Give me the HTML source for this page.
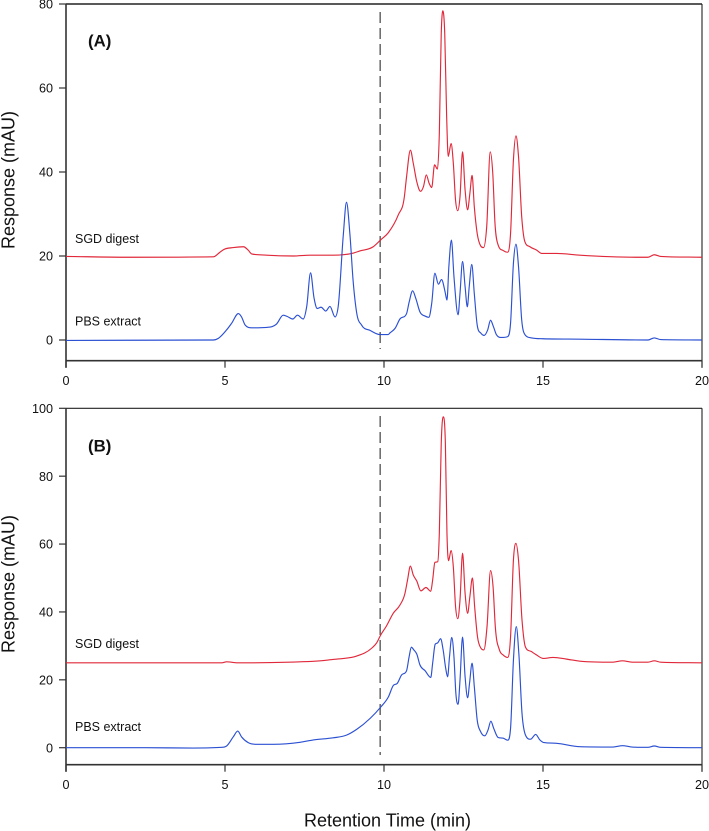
<!DOCTYPE html>
<html lang="en">
<head>
<meta charset="utf-8">
<title>Retention time chromatograms</title>
<style>
html,body{margin:0;padding:0;background:#fff;}
svg{display:block;}
text{font-family:"Liberation Sans",Arial,sans-serif;fill:#111;}
</style>
</head>
<body>
<svg id="chart" xmlns="http://www.w3.org/2000/svg" width="709" height="831" viewBox="0 0 709 831"></svg>
<script>
const xTickValues = [0, 5, 10, 15, 20];
const yTicksA = [0, 20, 40, 60, 80];
const yTicksB = [0, 20, 40, 60, 80, 100];
const dashedTime = 9.88;

const redATime = [0,2,4.63,4.84,4.95,5.26,5.58,5.73,5.84,6.31,7.15,7.67,8.4,9.04,9.24,9.66,9.89,10.14,10.45,10.64,10.71,10.83,10.92,11.03,11.15,11.24,11.33,11.42,11.5,11.59,11.68,11.74,11.8,11.85,11.91,11.97,12.02,12.11,12.18,12.25,12.32,12.39,12.47,12.55,12.63,12.7,12.77,12.84,12.93,13.04,13.13,13.23,13.34,13.42,13.49,13.59,13.75,13.89,13.98,14.07,14.15,14.23,14.33,14.43,14.59,14.8,14.96,15.43,16.16,18,18.3,18.5,18.7,20];
const redAValue = [19.9,19.7,19.8,20.9,21.5,22,22.2,21.4,20.5,20.2,20,20.2,20.2,20.7,21.2,22.2,23.8,25.6,29.8,34.1,38.9,45.2,42.1,37.7,35.4,36.5,39.3,37.3,36.3,41.7,40.7,49.2,73,78.4,73,53.2,43.7,46.8,42.1,33.3,30.8,34.1,44.8,35.7,31,34.9,39.2,31.7,25.4,22.4,22,27,44.8,39.7,27.8,22.6,21.3,20.9,25.4,42.9,48.6,43.7,29.4,23.4,22.2,21.4,20.6,20.6,20.2,19.7,19.7,20.3,19.9,19.7];

const blueATime = [0,4.63,4.79,5.05,5.21,5.42,5.52,5.63,5.84,6.31,6.62,6.83,6.96,7.13,7.28,7.46,7.57,7.69,7.8,7.9,8.02,8.17,8.3,8.46,8.56,8.72,8.82,8.93,9.03,9.14,9.3,9.56,9.87,10.13,10.19,10.35,10.5,10.71,10.79,10.9,11,11.13,11.29,11.41,11.5,11.6,11.71,11.81,11.92,11.98,12.04,12.12,12.2,12.33,12.39,12.47,12.55,12.62,12.68,12.76,12.84,12.93,13.05,13.15,13.26,13.35,13.44,13.54,13.7,13.89,13.98,14.07,14.15,14.23,14.33,14.43,14.64,15,16.16,18.3,18.5,18.7,20];
const blueAValue = [-0.1,0,0.4,2.4,4,6.3,5.5,3.6,2.9,3,3.8,5.9,5.6,5,5.9,5,8,16,10,7.5,7.8,6.9,8,5.5,8,25,32.8,25,14,6.5,3.5,2.3,1.3,1.3,1.7,2.8,5,6.3,9,11.7,9.9,6.7,5.7,5.4,8.7,15.9,13.3,14.4,11.5,9.5,17.5,23.8,15.1,6,11.1,18.7,12.7,7.9,12.7,18,11,3.6,1.6,1.1,2.4,4.7,3.2,1.2,0.6,0.8,4,18.3,22.8,17.5,4.8,1.3,0.5,0.3,0.2,0,0.5,0.1,0];

const redBTime = [0,4.9,5.05,5.4,7,7.36,8,8.4,8.62,9.14,9.61,9.77,9.89,10.08,10.29,10.5,10.66,10.74,10.83,10.92,11.03,11.16,11.32,11.47,11.53,11.6,11.69,11.74,11.8,11.86,11.93,11.98,12.03,12.11,12.18,12.25,12.32,12.39,12.47,12.55,12.63,12.7,12.78,12.85,12.94,13.05,13.14,13.24,13.35,13.43,13.5,13.63,13.75,13.89,13.98,14.07,14.15,14.23,14.34,14.45,14.64,14.8,15.01,15.32,15.74,16.16,17.2,17.5,17.8,18.3,18.5,18.7,20];
const redBValue = [25,25,25.3,25,25.2,25.3,25.6,26,26.2,27,29.3,30.9,33.1,35.9,39.6,42,45.5,49.4,53.5,50.9,49.1,46.2,47.2,46.1,49.4,54.6,54.8,63.2,89.7,97.5,89.7,63.2,55.1,58.1,53.3,41.6,38,43.5,57.3,45.5,39.6,44.5,50,41.6,32.7,29.3,28.8,35.7,52.2,47.4,35.7,28.8,27.3,26.6,32.7,55.3,60.2,55.3,37.6,29.6,28.3,27.3,26.3,26.6,26.1,25.5,25.2,25.6,25.2,25.2,25.6,25.2,25];

const blueBTime = [0,2.5,4,4.9,5.05,5.26,5.4,5.52,5.73,5.99,6.52,7.36,7.78,8.4,8.82,9.14,9.56,9.89,10.14,10.29,10.42,10.55,10.71,10.79,10.86,10.94,11.03,11.13,11.29,11.47,11.53,11.61,11.69,11.78,11.86,11.94,12,12.06,12.13,12.2,12.26,12.33,12.39,12.47,12.55,12.63,12.69,12.77,12.84,12.93,13.04,13.17,13.27,13.36,13.45,13.59,13.75,13.89,13.98,14.07,14.16,14.24,14.34,14.45,14.61,14.77,14.9,15.03,15.43,16.16,17.2,17.5,17.8,18.3,18.5,18.7,20];
const blueBValue = [0,0,-0.1,0.1,0.5,3.2,4.9,3.2,1.5,1,1,1.6,2.3,2.9,3.7,5.4,8.6,11.9,15,18.3,19,21.4,22.7,26.8,29.6,28.8,27.6,24.4,22.7,20.7,24.9,30.5,30.9,32.1,28.8,23.4,20.9,26.8,32.5,26.8,16,12.8,19.9,32.6,20.9,14.7,19,24.9,18,8.2,4.7,3.5,5.2,7.8,5.7,3,2.8,2.2,5.7,25.8,35.7,27.8,10.1,3.7,2.5,3.9,2.3,1.5,1.3,0.3,0.2,0.6,0.2,0.1,0.5,0.1,0];

const svg = document.getElementById('chart');
const NS = 'http://www.w3.org/2000/svg';
const RED = '#e0283a';
const BLUE = '#2b50d2';
const AXIS = '#333333';

function scaleX(t) { return 66 + t * 31.8; }
function makeScaleY(zeroPx, pxPerUnit) { return function (v) { return zeroPx - v * pxPerUnit; }; }
const yA = makeScaleY(340, 4.2);
const yB = makeScaleY(747.7, 3.394);

function add(tag, attrs, parent) {
  const el = document.createElementNS(NS, tag);
  for (const k in attrs) el.setAttribute(k, attrs[k]);
  (parent || svg).appendChild(el);
  return el;
}

function line(x1, y1, x2, y2, width, color, parent) {
  return add('line', { x1: x1, y1: y1, x2: x2, y2: y2, stroke: color, 'stroke-width': width }, parent);
}

function label(str, x, y, size, anchor, weight, parent) {
  const t = add('text', { x: x, y: y, 'font-size': size, 'text-anchor': anchor, 'font-weight': weight }, parent);
  t.textContent = str;
  return t;
}

/* cubic path with weighted tangents, limited so peaks stay round without overshoot */
function tracePath(xs, ys) {
  const n = xs.length, d = [], m = [];
  for (let i = 0; i < n - 1; i++) d.push((ys[i + 1] - ys[i]) / (xs[i + 1] - xs[i]));
  m.push(d[0]);
  for (let i = 1; i < n - 1; i++) {
    if (d[i - 1] * d[i] <= 0) m.push(0);
    else {
      const h0 = xs[i] - xs[i - 1], h1 = xs[i + 1] - xs[i];
      const p = (d[i - 1] * h1 + d[i] * h0) / (h0 + h1);
      const lim = 3 * Math.min(Math.abs(d[i - 1]), Math.abs(d[i]));
      m.push(Math.sign(p) * Math.min(Math.abs(p), lim));
    }
  }
  m.push(d[n - 2]);
  let p = 'M' + xs[0].toFixed(2) + ' ' + ys[0].toFixed(2);
  for (let i = 0; i < n - 1; i++) {
    const h = (xs[i + 1] - xs[i]) / 3;
    p += 'C' + (xs[i] + h).toFixed(2) + ' ' + (ys[i] + m[i] * h).toFixed(2) + ' ' +
      (xs[i + 1] - h).toFixed(2) + ' ' + (ys[i + 1] - m[i + 1] * h).toFixed(2) + ' ' +
      xs[i + 1].toFixed(2) + ' ' + ys[i + 1].toFixed(2);
  }
  return p;
}

function drawPanel(cfg) {
  const g = add('g', {});
  
  

  const top = cfg.y(cfg.yTicks[cfg.yTicks.length - 1]);
  const bottom = cfg.bottom;
  const left = scaleX(0), right = scaleX(20);

  const frameTop = line(left, top, right, top, cfg.topWidth, '#222', g);
  
  
  const frameRight = line(right, top, right, bottom + 7, 1.1, '#222', g);
  
  
  const yAxis = line(left, top, left, bottom + 7, 1.6, AXIS, g);
  
  
  const xAxis = line(left, bottom, right, bottom, 1.6, AXIS, g);
  
  

  cfg.yTicks.forEach(function (v) {
    const py = cfg.y(v);
    const tick = line(59, py, left, py, 1.2, AXIS, g);
    
    
    const lab = label(String(v), 53, py + 4.6, 12.6, 'end', 'normal', g);
    
    
  });

  xTickValues.forEach(function (v) {
    const px = scaleX(v);
    const tick = line(px, bottom, px, bottom + 7, 1.2, AXIS, g);
    
    
    const lab = label(String(v), px, bottom + 24.5, 12.6, 'middle', 'normal', g);
    
    
  });

  const dash = line(scaleX(dashedTime), cfg.dashTop, scaleX(dashedTime), cfg.dashBottom, 1.5, '#666', g);
  dash.setAttribute('stroke-dasharray', '11 5');
  
  

  const redPath = add('path', {
    d: tracePath(cfg.redT.map(scaleX), cfg.redV.map(cfg.y)),
    fill: 'none', stroke: RED, 'stroke-width': 1.15, 'stroke-linejoin': 'round'
  }, g);
  
  

  const bluePath = add('path', {
    d: tracePath(cfg.blueT.map(scaleX), cfg.blueV.map(cfg.y)),
    fill: 'none', stroke: BLUE, 'stroke-width': 1.15, 'stroke-linejoin': 'round'
  }, g);
  
  

  const panelLabel = label(cfg.title, 88, cfg.titleY, 16.8, 'start', 'bold', g);
  
  
  const sgdLabel = label('SGD digest', 75, cfg.sgdY, 12.5, 'start', 'normal', g);
  
  
  const pbsLabel = label('PBS extract', 75, cfg.pbsY, 12.5, 'start', 'normal', g);
  
  

  const yTitle = label('Response (mAU)', 0, 0, 18, 'middle', 'normal', g);
  yTitle.setAttribute('transform', 'translate(14.5,' + cfg.yTitleCenter + ') rotate(-90)');
  
  
}

drawPanel({
  name: 'panel-a', title: '(A)', y: yA, yTicks: yTicksA, bottom: 360.7, topWidth: 1.6,
  dashTop: 12, dashBottom: 349,
  redT: redATime, redV: redAValue, blueT: blueATime, blueV: blueAValue,
  titleY: 46.5, sgdY: 243, pbsY: 325.5, yTitleCenter: 180
});

drawPanel({
  name: 'panel-b', title: '(B)', y: yB, yTicks: yTicksB, bottom: 764.7, topWidth: 1.1,
  dashTop: 416, dashBottom: 755,
  redT: redBTime, redV: redBValue, blueT: blueBTime, blueV: blueBValue,
  titleY: 451.5, sgdY: 648, pbsY: 731, yTitleCenter: 584
});

const xTitle = label('Retention Time (min)', 387.5, 826.5, 18, 'middle', 'normal');


</script>
</body>
</html>
